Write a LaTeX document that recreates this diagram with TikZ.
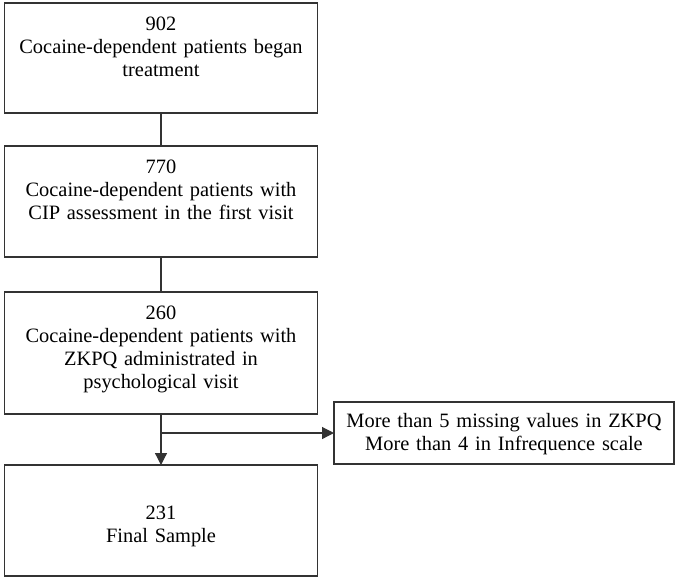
\documentclass[tikz,border=0pt]{standalone}
\usepackage{fontspec}
\setmainfont{Liberation Serif}
\usetikzlibrary{positioning,arrows.meta}

\tikzset{
  stage/.style={draw=black!80, line width=0.6pt, text width=150.5pt, align=center,
    inner xsep=3pt, inner ysep=0pt, outer sep=0pt, text height=13.8pt,
    font=\fontsize{10.2pt}{11.5pt}\selectfont},
  excl/.style={stage, text width=164pt, text height=12.9pt, text depth=18.1pt}
}

\begin{document}
\begin{tikzpicture}[node distance = 16.5pt, >={Triangle[length=6pt,width=6pt]}, line width=0.6pt]
		\useasboundingbox (0,0) rectangle (339pt,-289.5pt);
		\node [stage, text depth=41.2pt, anchor=north] (began) at (80.5pt,-1.5pt) {902\\ Cocaine-dependent patients began\\ treatment};
		\node [stage, text depth=41.7pt, below=of began] (cip) {770\\ Cocaine-dependent patients with\\ CIP assessment in the first visit};
		\node [stage, text depth=47.2pt, below=17.5pt of cip] (zkpq) {260\\ Cocaine-dependent patients with\\ ZKPQ administrated in\\ psychological visit};
		\node [stage, text height=27.4pt, text depth=28.1pt, below=25.5pt of zkpq] (final) {231\\ Final Sample};
		\coordinate [below=9.5pt of zkpq.south] (split);
		\node [excl, right=86.5pt of split] (missing) {More than 5 missing values in ZKPQ\\ More than 4 in Infrequence scale};
		
		\draw[black!80]
		(began) -- (cip);
		\draw[black!80]
		(cip) -- (zkpq);
		\draw[black!80]
		(zkpq) -- (split);
		\draw[->, black!80]
		(split) -- (final);
		\draw[->, black!80]
		(split) -- (missing);
		
		\end{tikzpicture}
\end{document}
